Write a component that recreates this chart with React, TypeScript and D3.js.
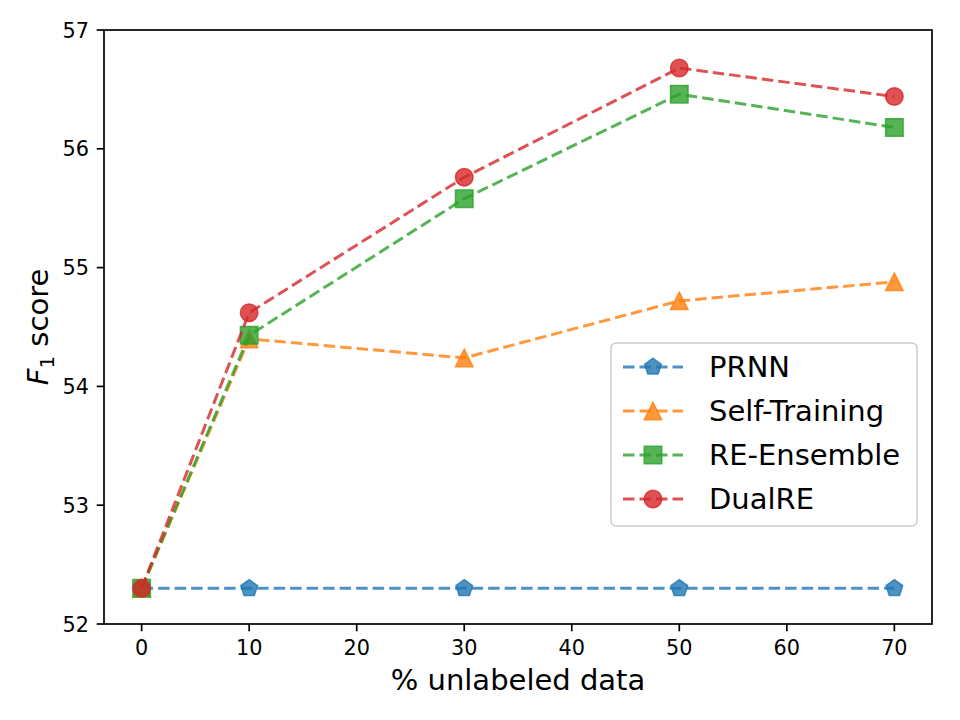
import * as d3 from "d3"

// unlabeled data ratio (%) vs F1
const ratios = [0, 10, 30, 50, 70]
const prnn = [52.3, 52.3, 52.3, 52.3, 52.3]
const selfTraining = [52.3, 54.4, 54.24, 54.72, 54.88]
const reEnsemble = [52.3, 54.43, 55.58, 56.46, 56.18]
const dualRE = [52.3, 54.62, 55.76, 56.68, 56.44]

const xTicks = [0, 10, 20, 30, 40, 50, 60, 70]
const yTicks = [52, 53, 54, 55, 56, 57]

const series = [
  { name: "PRNN", values: prnn, color: "#1f77b4", marker: "pentagon" },
  { name: "Self-Training", values: selfTraining, color: "#ff7f0e", marker: "triangle" },
  { name: "RE-Ensemble", values: reEnsemble, color: "#2ca02c", marker: "square" },
  { name: "DualRE", values: dualRE, color: "#d62728", marker: "circle" },
]

const W = 960
const H = 720
const box = { left: 104, right: 932, top: 30, bottom: 624 }
const FONT = "DejaVu Sans, sans-serif"
const MS = 17.5

function markerPath(kind: string, s: number) {
  const h = s / 2
  if (kind === "square") return `M${-h},${-h}H${h}V${h}H${-h}Z`
  if (kind === "triangle") return `M0,${-h}L${h},${h}L${-h},${h}Z`
  if (kind === "pentagon") {
    const pts = d3.range(5).map((i) => {
      const a = -Math.PI / 2 + (i * 2 * Math.PI) / 5
      return [h * Math.cos(a), h * Math.sin(a)]
    })
    return "M" + pts.map((p) => p.join(",")).join("L") + "Z"
  }
  return d3.symbol(d3.symbolCircle, Math.PI * h * h)() || ""
}

function Marker({ kind, color, x, y }: { kind: string; color: string; x: number; y: number }) {
  return (
    <path
      d={markerPath(kind, MS)}
      transform={`translate(${x},${y})`}
      fill={color}
      fillOpacity={0.8}
      stroke={color}
      strokeOpacity={0.8}
      strokeWidth={1.5}
    />
  )
}

export default function App() {
  const x = d3.scaleLinear().domain([-3.5, 73.5]).range([box.left, box.right])
  const y = d3.scaleLinear().domain([52, 57]).range([box.bottom, box.top])

  const line = d3
    .line<number>()
    .x((_, i) => x(ratios[i]))
    .y((d) => y(d))

  const legend = { x: 611, y: 343, w: 306, h: 183 }

  return (
    <svg width={W} height={H} style={{ position: "absolute", left: 0, top: 0, background: "#fff" }} fontFamily={FONT}>
      <rect width={W} height={H} fill="#fff" />

      {/* series */}
      {series.map((s) => (
        <g key={s.name}>
          <path
            d={line(s.values) || ""}
            fill="none"
            stroke={s.color}
            strokeOpacity={0.8}
            strokeWidth={3}
            strokeDasharray="11.5,5"
          />
          {s.values.map((v, i) => (
            <Marker key={i} kind={s.marker} color={s.color} x={x(ratios[i])} y={y(v)} />
          ))}
        </g>
      ))}

      {/* frame */}
      <rect
        x={box.left}
        y={box.top}
        width={box.right - box.left}
        height={box.bottom - box.top}
        fill="none"
        stroke="#000"
        strokeWidth={1.7}
      />

      {/* x axis */}
      {xTicks.map((t) => (
        <g key={t} transform={`translate(${x(t)},${box.bottom})`}>
          <line y2={7.3} stroke="#000" strokeWidth={1.7} />
          <text y={31} textAnchor="middle" fontSize={20.8}>
            {t}
          </text>
        </g>
      ))}
      <text x={(box.left + box.right) / 2} y={690} textAnchor="middle" fontSize={29}>
        % unlabeled data
      </text>

      {/* y axis */}
      {yTicks.map((t) => (
        <g key={t} transform={`translate(${box.left},${y(t)})`}>
          <line x2={-7.3} stroke="#000" strokeWidth={1.7} />
          <text x={-15} dy="0.36em" textAnchor="end" fontSize={20.8}>
            {t}
          </text>
        </g>
      ))}
      <text transform={`translate(48,${(box.top + box.bottom) / 2}) rotate(-90)`} textAnchor="middle" fontSize={29}>
        <tspan fontStyle="italic">F</tspan>
        <tspan fontSize={20} dy={6}>1</tspan>
        <tspan dy={-6}> score</tspan>
      </text>

      {/* legend */}
      <rect
        x={legend.x}
        y={legend.y}
        width={legend.w}
        height={legend.h}
        rx={5}
        fill="#fff"
        fillOpacity={0.8}
        stroke="#ccc"
        strokeWidth={1.5}
      />
      {series.map((s, i) => {
        const ly = 367 + i * 44
        return (
          <g key={s.name}>
            <line x1={623} x2={683} y1={ly} y2={ly} stroke={s.color} strokeOpacity={0.8} strokeWidth={3} strokeDasharray="11.5,5" />
            <Marker kind={s.marker} color={s.color} x={653} y={ly} />
            <text x={709} y={ly} dy="0.36em" fontSize={29}>
              {s.name}
            </text>
          </g>
        )
      })}
    </svg>
  )
}
